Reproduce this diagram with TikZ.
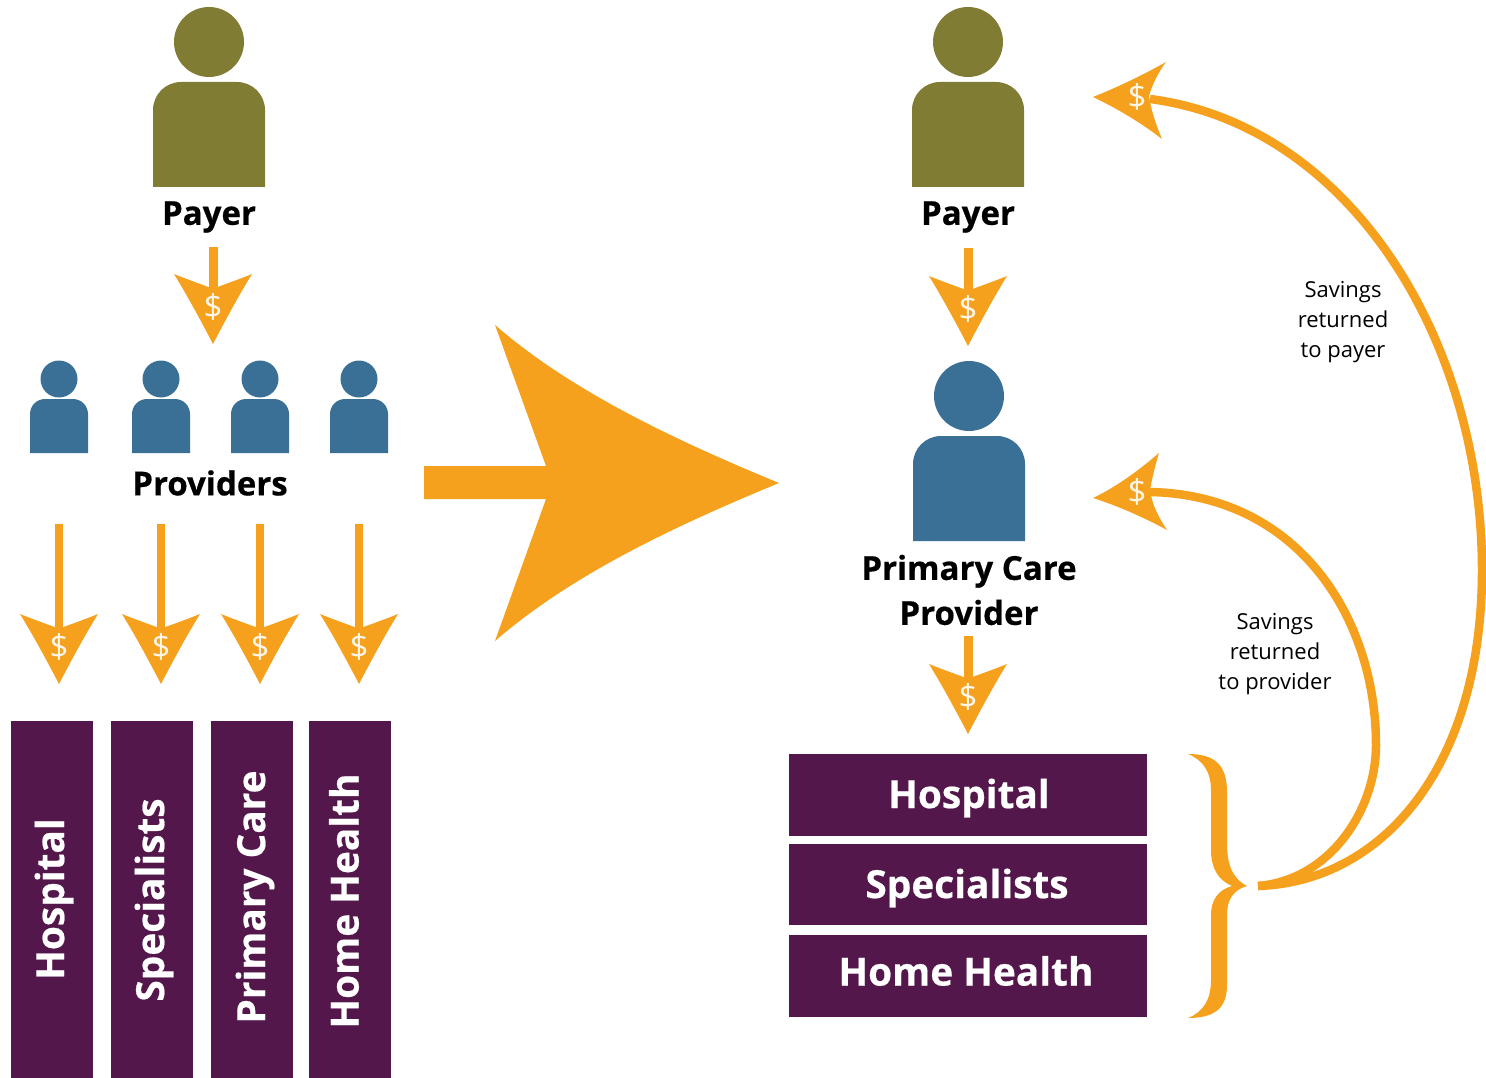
\documentclass[tikz,border=0pt]{standalone}
\usepackage{fontspec}
\setmainfont[BoldFeatures={FakeBold=0.5}]{Open Sans}
\definecolor{org}{HTML}{F5A11D}
\definecolor{olv}{HTML}{817C33}
\definecolor{blu}{HTML}{3B7096}
\definecolor{pur}{HTML}{54174C}
\tikzset{
  lab/.style={font=\bfseries\fontsize{33}{45}\selectfont, align=center, text=black, inner sep=0pt},
  barv/.style={fill=pur, draw=none},
  bart/.style={font=\bfseries\fontsize{38.8}{44}\selectfont, text=white, inner sep=0pt},
  note/.style={font=\fontsize{22}{30}\selectfont, align=center, text=black, inner sep=0pt},
  arc/.style={draw=org, line width=8.5pt, line cap=butt},
  dollar/.style={font=\fontsize{33}{33}\selectfont, text=white!90!org, inner sep=0pt},
  pics/head/.style={code={
    \fill[org] (0,0) .. controls (-12.5,-24) and (-25.5,-48) .. (-39,-70)
      .. controls (-28,-65.5) and (-14,-60.5) .. (-4.5,-57) -- (4.5,-57)
      .. controls (14,-60.5) and (28,-65.5) .. (39,-70)
      .. controls (25.5,-48) and (12.5,-24) .. (0,0) -- cycle;
    \node[dollar] at (0,-37) {\$};
  }},
  pics/personbig/.style={code={
    \fill[#1] (0,0) circle[radius=35];
    \fill[#1] (-56,145) [rounded corners=28pt] -- (-56,40) -- (56,40) [sharp corners] -- (56,145) -- cycle;
  }},
  pics/personsmall/.style={code={
    \fill[blu] (0,0) circle[radius=18.5];
    \fill[blu] (-29,74) [rounded corners=15pt] -- (-29,20) -- (29,20) [sharp corners] -- (29,74) -- cycle;
  }},
}
\begin{document}
\begin{tikzpicture}[x=1pt,y=-1pt]
\useasboundingbox (0,0) rectangle (1486,1078);

% left column
\pic at (209,42) {personbig=olv};
\node[lab] (payerL) at (209,217) {Payer};
\fill[org] (208.5,247) rectangle (217.5,295);
\pic at (213,344) {head};

\foreach \x in {59,161,260,359}{
  \pic at (\x,379) {personsmall};
  \fill[org] (\x-4,524) rectangle (\x+4,634);
  \pic at (\x,684) {head};
}
\node[lab] (prov) at (210,483) {Providers};

\fill[barv] (11,721) rectangle (93,1078);
\fill[barv] (111,721) rectangle (193,1078);
\fill[barv] (211,721) rectangle (293,1078);
\fill[barv] (309,721) rectangle (391,1078);
\node[bart,rotate=90] (b1) at (54,899) {Hospital};
\node[bart,rotate=90] (b2) at (154,900) {Specialists};
\node[bart,rotate=90] (b3) at (255,897) {Primary Care};
\node[bart,rotate=90] (b4) at (344,901) {Home Health};

% big arrow
\fill[org] (424,466) -- (546,466) -- (495,325)
  .. controls (570,390) and (670,438) .. (779,483)
  .. controls (670,528) and (570,576) .. (495,641)
  -- (546,499) -- (424,499) -- cycle;

% right column
\pic at (968,42) {personbig=olv};
\node[lab] (payerR) at (968,217) {Payer};
\fill[org] (963.5,248) rectangle (972.5,296);
\pic at (968,346) {head};

\pic at (969,396) {personbig=blu};
\node[lab] (pcp) at (969,590) {Primary Care\\Provider};
\fill[org] (963.5,636) rectangle (972.5,684);
\pic at (968,734) {head};

\fill[barv] (789,754) rectangle (1147,836);
\fill[barv] (789,844) rectangle (1147,925);
\fill[barv] (789,935) rectangle (1147,1017);
\node[bart] (r1) at (969,798) {Hospital};
\node[bart] (r2) at (967,888) {Specialists};
\node[bart] (r3) at (966,971) {Home Health};

% brace
\fill[org] (1188,754) .. controls (1215,754) and (1227,765) .. (1227,792)
  -- (1227,842) .. controls (1227,865) and (1232,878) .. (1247,886)
  .. controls (1233,890) and (1227,900) .. (1227,915)
  -- (1227,985) .. controls (1227,1008) and (1215,1018) .. (1188,1018)
  .. controls (1203,1012) and (1211,1000) .. (1211,980)
  -- (1211,915) .. controls (1211,900) and (1218,890) .. (1232,886)
  .. controls (1218,880) and (1211,868) .. (1211,850)
  -- (1211,790) .. controls (1211,772) and (1203,760) .. (1188,754) -- cycle;

% return curves
\draw[arc] (1258,886) .. controls (1380,882) and (1482,770) .. (1482,570)
  .. controls (1482,340) and (1350,125) .. (1150,99);
\draw[arc] (1258,886) .. controls (1330,880) and (1376,810) .. (1376,745)
  .. controls (1376,620) and (1300,495) .. (1150,492);

% return heads
\fill[org] (1093,97) .. controls (1118,87) and (1143,75) .. (1166,62)
  .. controls (1158,73) and (1152,85) .. (1149,96)
  .. controls (1151,110) and (1156,125) .. (1162,139)
  .. controls (1140,122) and (1116,108) .. (1093,97) -- cycle;
\node[dollar] (d1) at (1137,97) {\$};
\fill[org] (1093,498) .. controls (1116,487) and (1138,471) .. (1159,453)
  .. controls (1155,466) and (1152,479) .. (1150,490)
  .. controls (1152,505) and (1159,518) .. (1167,530)
  .. controls (1143,517) and (1118,506) .. (1093,498) -- cycle;
\node[dollar] (d2) at (1137,492) {\$};

\node[note] (n1) at (1343,322) {Savings\\returned\\to payer};
\node[note] (n2) at (1275,654) {Savings\\returned\\to provider};
\end{tikzpicture}
\end{document}
